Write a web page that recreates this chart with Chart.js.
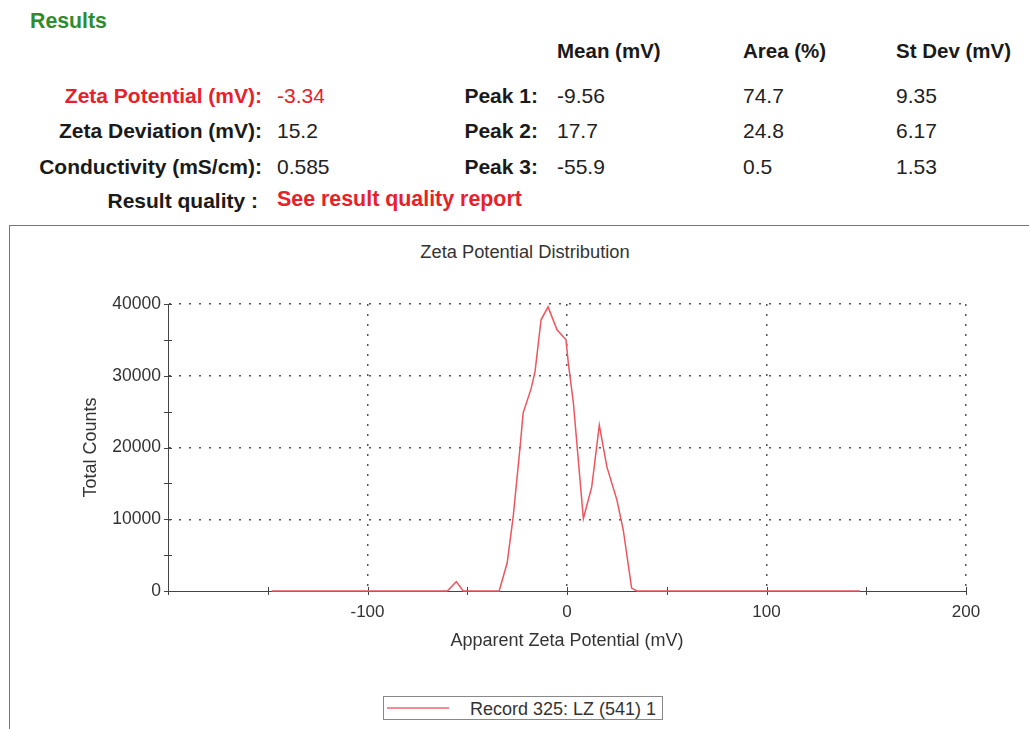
<!DOCTYPE html>
<html><head><meta charset="utf-8">
<script src="https://cdn.jsdelivr.net/npm/chart.js@4.4.1/dist/chart.umd.min.js"></script>
<style>
html,body{margin:0;padding:0;background:#fff;width:1029px;height:729px;overflow:hidden;font-family:"Liberation Sans",Arial,sans-serif;}
.t{position:absolute;white-space:nowrap;line-height:1;transform:translateY(-50%);}
.b{font-weight:bold;}
#frame{position:absolute;left:9px;top:225px;width:1020px;height:504px;border-top:1px solid #777;border-left:1px solid #777;box-sizing:border-box;}
#cv{position:absolute;left:0;top:0;}
#legend{position:absolute;left:383px;top:696px;width:280px;height:24px;border:1px solid #888;box-sizing:border-box;background:#fff;}
</style></head>
<body>
<div id="frame"></div>
<div id="hdr"></div>
<canvas id="cv" width="1029" height="729"></canvas>
<div id="legend"></div>
<script>
// ---- data ----
const summaryLabels = ["Zeta Potential (mV):", "Zeta Deviation (mV):", "Conductivity (mS/cm):"];
const summaryValues = ["-3.34", "15.2", "0.585"];
const peakLabels = ["Peak 1:", "Peak 2:", "Peak 3:"];
const columnHeaders = ["Mean (mV)", "Area (%)", "St Dev (mV)"];
const peakMean = ["-9.56", "17.7", "-55.9"];
const peakArea = ["74.7", "24.8", "0.5"];
const peakStDev = ["9.35", "6.17", "1.53"];
const qualityLabel = "Result quality :";
const qualityText = "See result quality report";

const seriesName = "Record 325: LZ (541) 1";
const zetaMV = [-148, -60, -55.5, -52, -34, -30, -27, -23.5, -22, -18, -16, -13, -9.5, -5, -0.5, 0.7, 3.2, 8.2, 12.4, 16.2, 20, 25, 28.2, 32.4, 35, 147];
const totalCounts = [0, 0, 1300, 0, 0, 3900, 10300, 20100, 24800, 28200, 30600, 37800, 39600, 36400, 35000, 31700, 26200, 10100, 14500, 23100, 17300, 12700, 8500, 400, 0, 0];
const xMajorTicks = [-100, 0, 100, 200];
const yMajorTicks = [0, 10000, 20000, 30000, 40000];

// ---- header (text) ----
const hdr = document.getElementById('hdr');
const BOLD_SIZE = 21, VAL_SIZE = 21;
function addText(txt, opts) {
  const d = document.createElement('div');
  d.className = 't' + (opts.bold ? ' b' : '');
  d.textContent = txt;
  d.style.top = opts.y + 'px';
  d.style.fontSize = (opts.size || (opts.bold ? BOLD_SIZE : VAL_SIZE)) + 'px';
  d.style.color = opts.color || '#1a1a1a';
  if (opts.right !== undefined) { d.style.right = (1029 - opts.right) + 'px'; }
  else { d.style.left = opts.x + 'px'; }
  hdr.appendChild(d);
  return d;
}
const RED = '#e8202a';
addText("Results", {x: 30, y: 22, bold: true, color: '#2e8b2e', size: 21.3});
const colX = [557, 743, 896];
columnHeaders.forEach((h, i) => addText(h, {x: colX[i], y: 51, bold: true, size: 20.5}));
const rowY = [95, 130, 166];
summaryLabels.forEach((l, i) => addText(l, {right: 262, y: rowY[i], bold: true, color: i === 0 ? RED : '#1a1a1a'}));
summaryValues.forEach((v, i) => addText(v, {x: 277, y: rowY[i], color: i === 0 ? RED : '#222'}));
peakLabels.forEach((l, i) => addText(l, {right: 538, y: rowY[i], bold: true}));
peakMean.forEach((v, i) => addText(v, {x: colX[0], y: rowY[i], color: '#222'}));
peakArea.forEach((v, i) => addText(v, {x: colX[1], y: rowY[i], color: '#222'}));
peakStDev.forEach((v, i) => addText(v, {x: colX[2], y: rowY[i], color: '#222'}));
addText(qualityLabel, {right: 258, y: 200, bold: true});
addText(qualityText, {x: 277, y: 200, bold: true, color: RED, size: 21.4});
const ttl = addText("Zeta Potential Distribution", {x: 525, y: 252, size: 18.3, color: '#333'});
ttl.style.transform = 'translate(-50%,-50%)';

// ---- legend ----
const LINE = 'rgb(237,85,95)';
const lg = document.getElementById('legend');
lg.innerHTML = '<div style="position:absolute;left:3px;top:10px;width:62px;height:2px;background:rgb(242,140,150)"></div>' +
  '<div class="t" style="left:86px;top:12px;font-size:18px;color:#333">' + seriesName + '</div>';

// ---- chart ----
const points = zetaMV.map((x, i) => ({x: x, y: totalCounts[i]}));

const crossTicks = {
  id: 'crossTicks',
  beforeDatasetsDraw(chart) {
    const ctx = chart.ctx;
    const xs = chart.scales.x, ys = chart.scales.y;
    ctx.save();
    ctx.strokeStyle = '#444';
    ctx.lineWidth = 1;
    ctx.beginPath();
    xs.ticks.forEach(t => {
      const px = Math.round(xs.getPixelForValue(t.value)) + 0.5;
      ctx.moveTo(px, ys.bottom - 4); ctx.lineTo(px, ys.bottom + 4);
    });
    ys.ticks.forEach(t => {
      const py = Math.round(ys.getPixelForValue(t.value)) + 0.5;
      ctx.moveTo(xs.left - 4, py); ctx.lineTo(xs.left + 4, py);
    });
    ctx.stroke();
    ctx.restore();
  }
};

Chart.defaults.font.family = '"Liberation Sans", Arial, sans-serif';
Chart.defaults.color = '#333';

new Chart(document.getElementById('cv'), {
  type: 'line',
  data: {
    datasets: [{
      label: seriesName,
      data: points,
      borderColor: LINE,
      backgroundColor: LINE,
      borderWidth: 1.5,
      pointRadius: 0,
      tension: 0,
      fill: false,
      clip: 6
    }]
  },
  options: {
    responsive: false,
    animation: false,
    events: [],
    layout: {padding: {left: 0, top: 304, right: 63, bottom: 0}},
    plugins: {legend: {display: false}, title: {display: false}, tooltip: {enabled: false}},
    scales: {
      x: {
        type: 'linear',
        min: -200, max: 200,
        afterFit(s) { s.height = 138; },
        ticks: {
          stepSize: 50, autoSkip: false, maxRotation: 0, padding: 11,
          font: {size: 17}, color: '#333',
          callback: v => (xMajorTicks.includes(v) ? String(v) : '')
        },
        grid: {
          drawTicks: false, lineWidth: 1.5,
          color: c => (c.tick && xMajorTicks.includes(c.tick.value) ? '#555' : 'rgba(0,0,0,0)')
        },
        border: {display: true, color: '#444', width: 1, dash: [2, 8]},
        title: {display: true, text: 'Apparent Zeta Potential (mV)', font: {size: 18}, color: '#333', padding: {top: 0, bottom: 77}}
      },
      y: {
        type: 'linear',
        min: 0, max: 40000,
        afterFit(s) { s.width = 168; },
        ticks: {
          stepSize: 5000, autoSkip: false, padding: 7,
          font: {size: 17.5}, color: '#333',
          callback: v => (yMajorTicks.includes(v) ? String(v) : '')
        },
        grid: {
          drawTicks: false, lineWidth: 1.5,
          color: c => (c.tick && yMajorTicks.includes(c.tick.value) && c.tick.value !== 0 ? '#555' : 'rgba(0,0,0,0)')
        },
        border: {display: true, color: '#444', width: 1, dash: [2, 8]},
        title: {display: true, text: 'Total Counts', font: {size: 18}, color: '#333', padding: {top: 80, bottom: 0}}
      }
    }
  },
  plugins: [crossTicks]
});
</script>
</body></html>
